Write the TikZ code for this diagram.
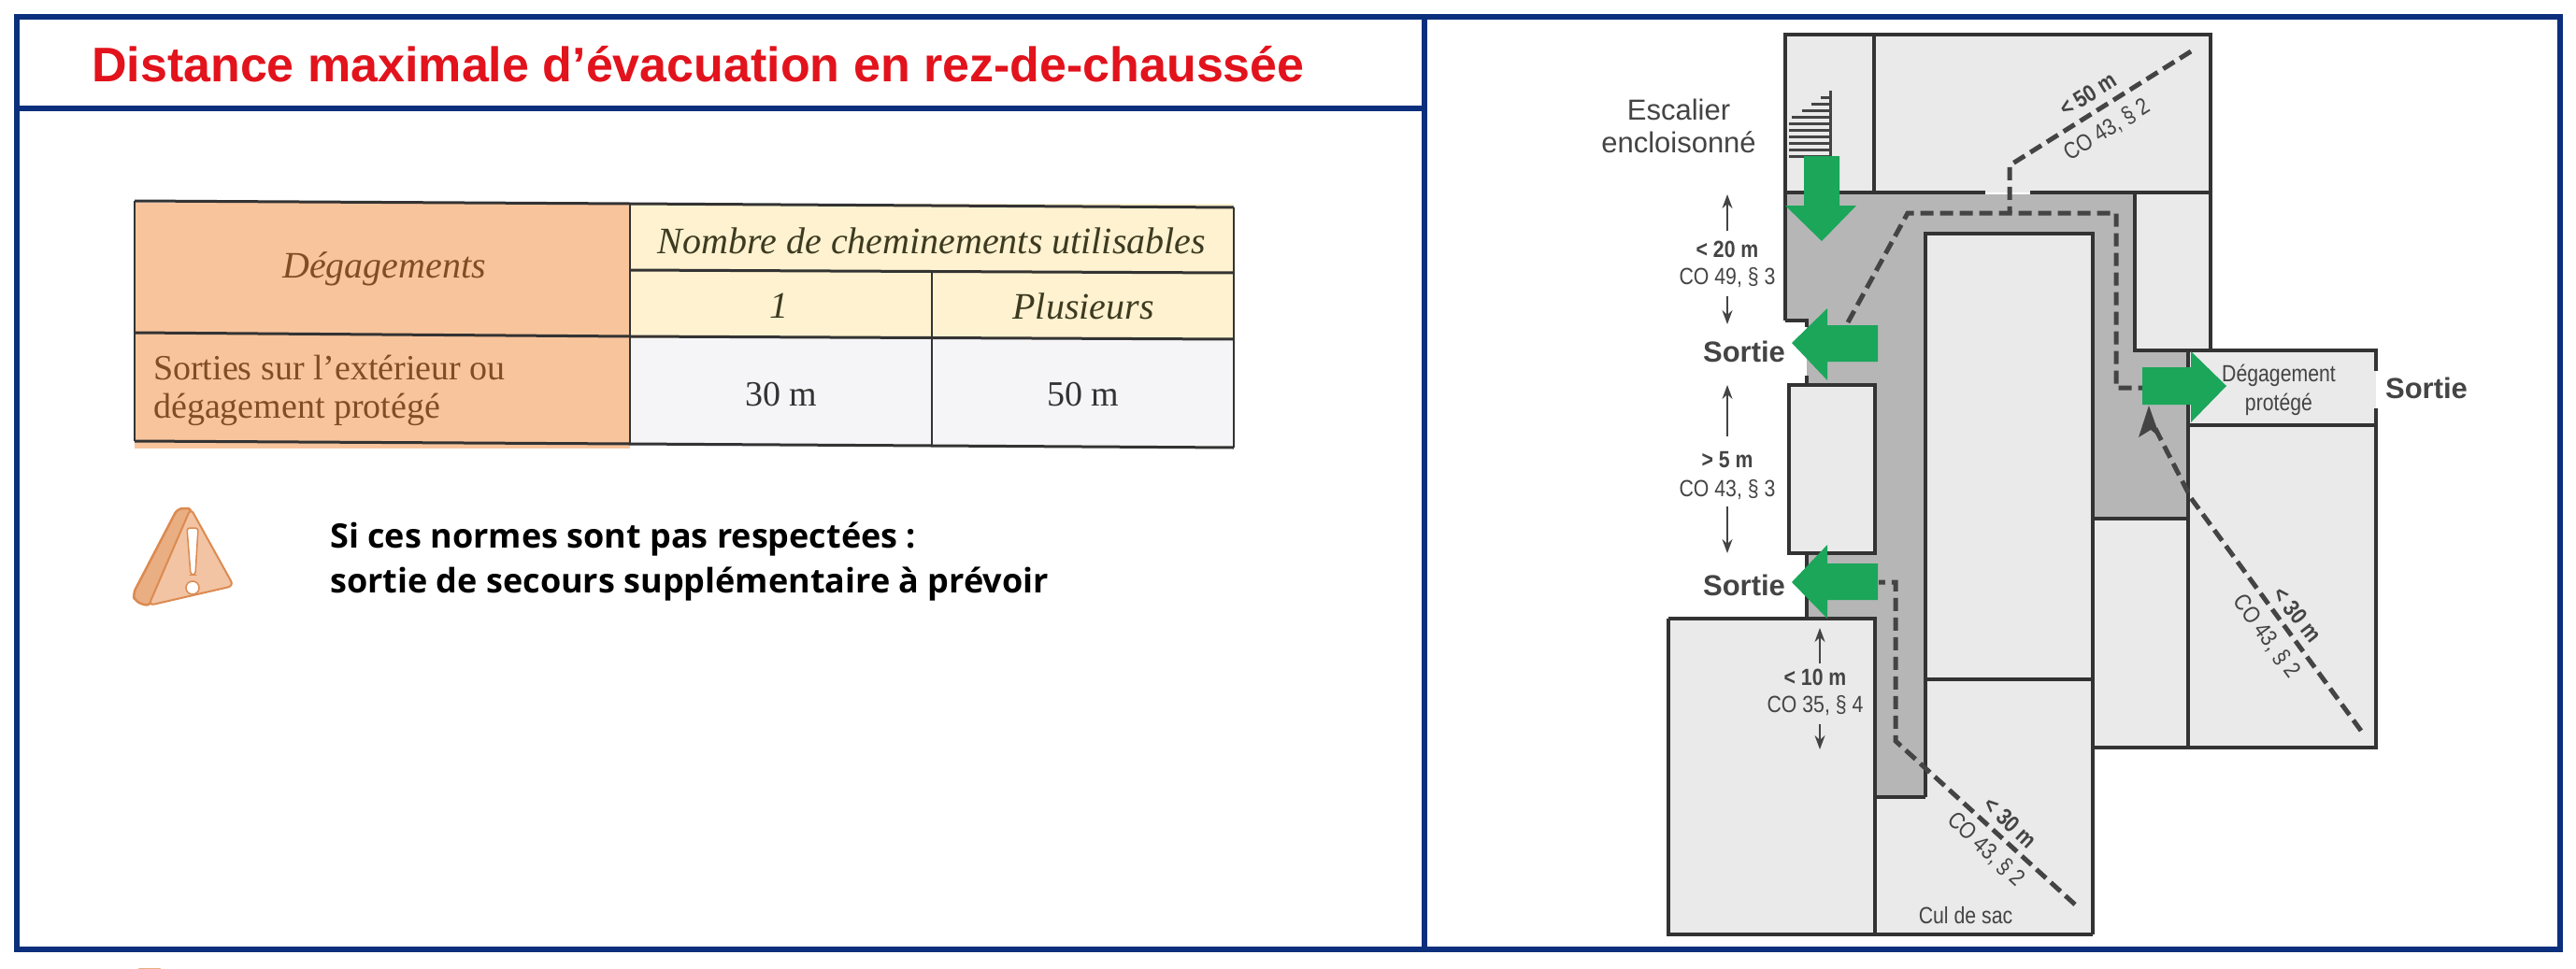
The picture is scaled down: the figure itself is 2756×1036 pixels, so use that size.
\documentclass[tikz,border=0pt]{standalone}
\usepackage{fontspec}
\setmainfont{Liberation Serif}
\setsansfont{Liberation Sans}
\newfontfamily\notefont{Open Sans}
\newfontfamily\narrowsans[FakeStretch=0.85]{Liberation Sans}
\usetikzlibrary{arrows.meta}
\definecolor{framecol}{HTML}{0B2F7C}
\definecolor{titlecol}{HTML}{E2131C}
\definecolor{roomcol}{HTML}{EAEAEA}
\definecolor{corrcol}{HTML}{B6B6B6}
\definecolor{wallcol}{HTML}{333333}
\definecolor{planink}{HTML}{444444}
\definecolor{greenarr}{HTML}{1BA65A}
\definecolor{orangecell}{HTML}{F8C49C}
\definecolor{creamcell}{HTML}{FFF2D0}
\definecolor{greycell}{HTML}{F5F5F7}
\definecolor{browntxt}{HTML}{7F4E24}
\definecolor{olivetxt}{HTML}{3C3A20}
\definecolor{warnfront}{HTML}{F2C4A4}
\definecolor{warnside}{HTML}{E9AE82}
\definecolor{warnedge}{HTML}{DC8A50}
\tikzset{
  x=1pt,y=-1pt,
  frameline/.style={draw=framecol,line width=6.5pt},
  wall/.style={draw=wallcol,line width=4pt},
  route/.style={draw=planink,line width=5pt,dash pattern=on 14pt off 7pt},
  greenflow/.style={fill=greenarr,draw=none},
  dimarrow/.style={draw=planink,line width=2pt,-{Stealth[length=15pt,width=11pt]}},
  plantext/.style={inner sep=0pt,font=\narrowsans\fontsize{25}{25}\selectfont,text=planink},
  planlen/.style={inner sep=0pt,font=\narrowsans\bfseries\fontsize{25}{25}\selectfont,text=planink},
  planbold/.style={inner sep=0pt,font=\sffamily\bfseries\fontsize{31}{31}\selectfont,text=planink},
  planlarge/.style={inner sep=0pt,font=\sffamily\fontsize{31}{31}\selectfont,text=planink},
  tabline/.style={draw=black!80,line width=3pt},
  tabrule/.style={draw=black!80,line width=1.5pt},
  tabtext/.style={inner sep=0pt,font=\fontsize{38}{38}\selectfont},
  tabital/.style={inner sep=0pt,font=\itshape\fontsize{40}{40}\selectfont},
  notetext/.style={inner sep=0pt,anchor=west,font=\notefont\bfseries\fontsize{36}{36}\selectfont,text=black},
}
\begin{document}
\begin{tikzpicture}
\useasboundingbox (0,0) rectangle (2756,1036);
\fill[white] (0,0) rectangle (2756,1036);

% ---------- left panel: table
\fill[orangecell] (144,217) rectangle (674,480);
\fill[creamcell] (674,218) rectangle (1320,362);
\fill[greycell] (674,362) rectangle (1320,478);
\draw[tabline] (144,215) -- (674,218) -- (1320,222);
\draw[tabline] (674,289) -- (1320,292);
\draw[tabline] (144,356) -- (674,360) -- (1320,363);
\draw[tabline] (144,472) -- (674,475) -- (1320,479);
\draw[tabrule] (144,215) -- (144,472);
\draw[tabrule] (674,218) -- (674,475);
\draw[tabrule] (997,291) -- (997,477);
\draw[tabrule] (1320,222) -- (1320,479);
\node[tabital,text=browntxt] (tdeg) at (411,288) {Dégagements};
\node[tabital,text=olivetxt] (tnb) at (997,258) {Nombre de cheminements utilisables};
\node[tabital,text=olivetxt] (tone) at (833,327) {1};
\node[tabital,text=olivetxt] (tplus) at (1159,328) {Plusieurs};
\node[tabtext,text=browntxt,anchor=west] (tsort) at (164,393) {Sorties sur l’extérieur ou};
\node[tabtext,text=browntxt,anchor=west] (tprot) at (164,438) {dégagement protégé};
\node[tabtext,text=black!80] (t30) at (836,422) {30 m};
\node[tabtext,text=black!80] (t50) at (1159,422) {50 m};

% ---------- left panel: warning
\fill[warnside,draw=warnedge,line width=2.5pt,rounded corners=6pt] (190,544) -- (206,544) -- (160,649) -- (145,644) -- (142,636) -- cycle;
\fill[warnfront,draw=warnedge,line width=2pt,rounded corners=6pt] (204,544) -- (250,627) -- (159,648) -- cycle;
\fill[white,draw=warnedge,line width=1.5pt,rounded corners=3pt] (200,565) -- (212,565) -- (209,615) -- (204,615) -- cycle;
\fill[white,draw=warnedge,line width=1.5pt] (206,629) circle (7pt);
\node[notetext] (note1) at (353,577) {Si ces normes sont pas respectées :};
\node[notetext] (note2) at (353,625) {sortie de secours supplémentaire à prévoir};
\fill[warnside] (148,1036) arc[start angle=180,end angle=0,x radius=12,y radius=4] -- cycle;

% ---------- right panel: plan rooms
\fill[roomcol] (1910,37) rectangle (2365,206);
\fill[roomcol] (2284,206) rectangle (2365,375);
\fill[roomcol] (1914,412) rectangle (2006,592);
\fill[roomcol] (1785,662) rectangle (2006,1000);
\fill[roomcol] (2006,250) rectangle (2239,1000);
\fill[roomcol] (2239,375) rectangle (2542,800);
% corridor
\fill[corrcol] (1910,208) -- (2284,208) -- (2284,375) -- (2341,375) -- (2341,555) -- (2239,555)
  -- (2237,250) -- (2060,250) -- (2060,853) -- (2006,853) -- (2006,662) -- (1933,662) -- (1933,593)
  -- (2006,593) -- (2006,412) -- (1933,412) -- (1933,343) -- (1910,343) -- cycle;
% stair
\foreach \yy in {104,111,...,167}{\draw[planink,line width=3pt] ({max(1914,1958-(\yy-97)*1.45)},\yy) -- (1958,\yy);}
\draw[planink,line width=3pt] (1958,97) -- (1958,167);
% walls
\draw[wall] (2005,37) -- (2005,206);
\draw[wall] (1910,343) -- (1910,37) -- (2365,37) -- (2365,375);
\draw[wall] (1910,206) -- (2124,206);
\draw[wall] (2172,206) -- (2365,206);
\draw[wall] (1910,343) -- (1933,343) -- (1933,350);
\draw[wall] (2284,208) -- (2284,375) -- (2542,375) -- (2542,397);
\draw[wall] (2542,437) -- (2542,800) -- (2239,800);
\draw[wall] (2341,375) -- (2341,800);
\draw[wall] (2341,455) -- (2542,455);
\draw[wall] (2239,555) -- (2341,555);
\draw[wall] (2239,1000) -- (2239,250) -- (2060,250) -- (2060,853);
\draw[wall] (2060,727) -- (2239,727);
\draw[wall] (2006,853) -- (2060,853);
\draw[wall] (1933,402) -- (1933,412) -- (2006,412) -- (2006,592) -- (1914,592) -- (1914,412) -- (1933,412);
\draw[wall] (1933,592) -- (1933,662);
\draw[wall] (1785,662) -- (2006,662) -- (2006,1000);
\draw[wall] (1785,662) -- (1785,1000) -- (2239,1000);

% routes
\coordinate (r1a) at (2344,55);
\coordinate (r1b) at (2150,177);
\coordinate (r1c) at (2150,228);
\draw[route] (r1a) -- (r1b) -- (r1c);
\coordinate (r2a) at (1977,345);
\coordinate (r2b) at (2041,228);
\coordinate (r2c) at (2264,228);
\coordinate (r2d) at (2264,415);
\coordinate (r2e) at (2292,415);
\draw[route] (r2a) -- (r2b) -- (r2c) -- (r2d) -- (r2e);
\coordinate (r3a) at (2526,782);
\coordinate (r3m) at (2344,533);
\coordinate (r3b) at (2304,455);
\coordinate (r3c) at (2299,434);
\draw[route] (r3a) -- (r3m) -- (r3b);
\fill[planink] (r3c) -- (2311,468) -- (2301,460) -- (2288,468) -- cycle;
\coordinate (r4a) at (2220,968);
\coordinate (r4b) at (2028,793);
\coordinate (r4c) at (2028,623);
\coordinate (r4d) at (2010,623);
\draw[route] (r4a) -- (r4b) -- (r4c) -- (r4d);

% green arrows
\fill[greenflow] (1930,167) -- (1968,167) -- (1968,220) -- (1986,220) -- (1949,258) -- (1910,220) -- (1930,220) -- cycle;
\fill[greenflow] (2009,348) -- (1955,348) -- (1955,330) -- (1917,367) -- (1955,407) -- (1955,387) -- (2009,387) -- cycle;
\fill[greenflow] (2292,393) -- (2344,393) -- (2344,376) -- (2382,413) -- (2344,452) -- (2344,433) -- (2292,433) -- cycle;
\fill[greenflow] (2009,603) -- (1955,603) -- (1955,583) -- (1917,623) -- (1955,662) -- (1955,642) -- (2009,642) -- cycle;

% dimension arrows
\coordinate (d1a) at (1848,247); \coordinate (d1b) at (1848,208);
\coordinate (d2a) at (1848,317); \coordinate (d2b) at (1848,347);
\coordinate (d3a) at (1848,467); \coordinate (d3b) at (1848,412);
\coordinate (d4a) at (1848,542); \coordinate (d4b) at (1848,592);
\coordinate (d5a) at (1947,710); \coordinate (d5b) at (1947,672);
\coordinate (d6a) at (1947,775); \coordinate (d6b) at (1947,802);
\foreach \p/\q in {d1a/d1b,d2a/d2b,d3a/d3b,d4a/d4b,d5a/d5b,d6a/d6b}{\draw[dimarrow] (\p) -- (\q);}

% plan texts
\node[planlarge] (esc) at (1796,117) {Escalier};
\node[planlarge] (enc) at (1796,152) {encloisonné};
\node[planlen] (l20) at (1848,267) {< 20 m};
\node[plantext] (c49) at (1848,297) {CO 49, § 3};
\node[planbold] (s1) at (1866,376) {Sortie};
\node[planlen] (l5) at (1848,492) {> 5 m};
\node[plantext] (c43a) at (1848,524) {CO 43, § 3};
\node[planbold] (s2) at (1866,626) {Sortie};
\node[planlen] (l10) at (1942,725) {< 10 m};
\node[plantext] (c35) at (1942,755) {CO 35, § 4};
\node[plantext] (dg1) at (2438,402) {Dégagement};
\node[plantext] (dg2) at (2438,433) {protégé};
\node[planbold] (s3) at (2596,415) {Sortie};
\node[plantext] (cul) at (2103,980) {Cul de sac};
\node[planlen,rotate=32] (r50) at (2234,101) {< 50 m};
\node[plantext,rotate=32] (c43b) at (2254,139) {CO 43, § 2};
\node[planlen,rotate=-52] (r30a) at (2458,658) {< 30 m};
\node[plantext,rotate=-54] (c43c) at (2425,681) {CO 43, § 2};
\node[planlen,rotate=-43] (r30b) at (2151,880) {< 30 m};
\node[plantext,rotate=-43] (c43d) at (2125,909) {CO 43, § 2};

% ---------- frame and title
\draw[frameline] (18,18) rectangle (2739,1016);
\draw[frameline] (1524,18) -- (1524,1016);
\draw[frameline] (18,116) -- (1524,116);
\node[inner sep=0pt,font=\sffamily\bfseries\fontsize{52}{52}\selectfont,text=titlecol] (title) at (747,69) {Distance maximale d’évacuation en rez-de-chaussée};
\end{tikzpicture}
\end{document}
